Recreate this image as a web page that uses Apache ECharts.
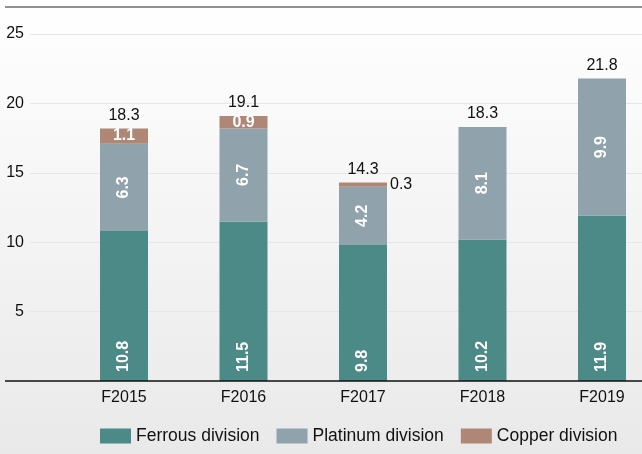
<!DOCTYPE html>
<html>
<head>
<meta charset="utf-8">
<script src="https://cdn.jsdelivr.net/npm/echarts@6/dist/echarts.min.js"></script>
<style>
  html, body { margin: 0; padding: 0; }
  #chart { width: 642px; height: 454px; }
</style>
</head>
<body>
<div id="chart"></div>
<script>
const years = ['F2015', 'F2016', 'F2017', 'F2018', 'F2019']
const ferrous = [10.8, 11.5, 9.8, 10.2, 11.9]
const platinum = [6.3, 6.7, 4.2, 8.1, 9.9]
const copper = [1.1, 0.9, 0.3, 0, 0]
const totals = [18.3, 19.1, 14.3, 18.3, 21.8]
const yTicks = [0, 5, 10, 15, 20, 25]

const FONT = '"Liberation Sans", Arial, Helvetica, sans-serif'

const chart = echarts.init(document.getElementById('chart'))

// white rotated label for the inside of a bar
function insideLabel (position) {
  return {
    show: true,
    position: position,
    rotate: 90,
    align: position === 'insideBottom' ? 'left' : 'center',
    verticalAlign: 'middle',
    distance: 9,
    color: '#fff',
    fontWeight: 'bold',
    fontSize: 16,
    fontFamily: FONT
  }
}

const option = {
  animation: false,
  backgroundColor: {
    type: 'linear', x: 0, y: 0, x2: 0, y2: 1,
    colorStops: [
      {offset: 0, color: '#ffffff'},
      {offset: 1, color: '#e9e9e9'}
    ]
  },
  textStyle: {fontFamily: FONT},
  graphic: [
    {type: 'line', shape: {x1: 5, y1: 7, x2: 642, y2: 7}, style: {stroke: '#6e6e6e', lineWidth: 1.5}, z: 10},
    {type: 'line', shape: {x1: 5, y1: 381, x2: 642, y2: 381}, style: {stroke: '#111', lineWidth: 1.5}, z: 10}
  ],
  grid: [
    // grid for the value axis + gridlines
    {left: 30, right: 0, top: 34, bottom: 73},
    // grid for the bars (category band runs past the right edge)
    {left: 64.25, width: 597.5, top: 34, bottom: 73, outerBoundsMode: 'none'}
  ],
  legend: {
    data: ['Ferrous division', 'Platinum division', 'Copper division'],
    left: 100,
    top: 427,
    padding: 0,
    itemWidth: 31,
    itemHeight: 15,
    itemGap: 17,
    icon: 'rect',
    textStyle: {fontSize: 17.5, color: '#111', fontFamily: FONT}
  },
  xAxis: [
    {gridIndex: 0, type: 'category', data: years, show: false},
    {
      gridIndex: 1,
      type: 'category',
      data: years,
      axisLine: {show: false},
      axisTick: {show: false},
      axisLabel: {color: '#111', fontSize: 16, margin: 9, fontFamily: FONT}
    }
  ],
  yAxis: [
    {
      gridIndex: 0,
      type: 'value',
      min: yTicks[0],
      max: yTicks[yTicks.length - 1],
      interval: 5,
      axisLine: {show: false},
      axisTick: {show: false},
      axisLabel: {
        color: '#111',
        fontSize: 16,
        margin: 6,
        fontFamily: FONT,
        formatter: v => (v === 0 ? '' : v)
      },
      splitLine: {lineStyle: {color: '#e6e6e6', width: 1}}
    },
    {
      gridIndex: 1,
      type: 'value',
      min: yTicks[0],
      max: yTicks[yTicks.length - 1],
      interval: 5,
      show: false,
      splitLine: {show: false}
    }
  ],
  series: [
    {
      name: 'Ferrous division',
      type: 'bar',
      stack: 'total',
      xAxisIndex: 1,
      yAxisIndex: 1,
      barWidth: 48,
      itemStyle: {color: '#4b8a87'},
      label: insideLabel('insideBottom'),
      data: ferrous
    },
    {
      name: 'Platinum division',
      type: 'bar',
      stack: 'total',
      xAxisIndex: 1,
      yAxisIndex: 1,
      barWidth: 48,
      itemStyle: {color: '#90a3ac'},
      label: insideLabel('inside'),
      data: platinum
    },
    {
      name: 'Copper division',
      type: 'bar',
      stack: 'total',
      xAxisIndex: 1,
      yAxisIndex: 1,
      barWidth: 48,
      itemStyle: {color: '#ae8776'},
      label: {
        show: true,
        position: 'inside',
        color: '#fff',
        fontWeight: 'bold',
        fontSize: 16,
        fontFamily: FONT,
        formatter: p => (p.value ? p.value.toFixed(1) : '')
      },
      // thin slices get their label outside, to the right
      data: copper.map(v => v > 0 && v < 0.5
        ? {value: v, label: {position: 'right', distance: 3, color: '#111', fontWeight: 'normal'}}
        : v)
    },
    {
      name: 'Total',
      type: 'bar',
      stack: 'total',
      xAxisIndex: 1,
      yAxisIndex: 1,
      barWidth: 48,
      itemStyle: {color: 'rgba(0,0,0,0)'},
      label: {
        show: true,
        position: 'top',
        distance: 5,
        color: '#111',
        fontSize: 16,
        fontFamily: FONT,
        formatter: p => totals[p.dataIndex].toFixed(1)
      },
      data: totals.map(() => 0)
    }
  ]
}

chart.setOption(option)
</script>
</body>
</html>
